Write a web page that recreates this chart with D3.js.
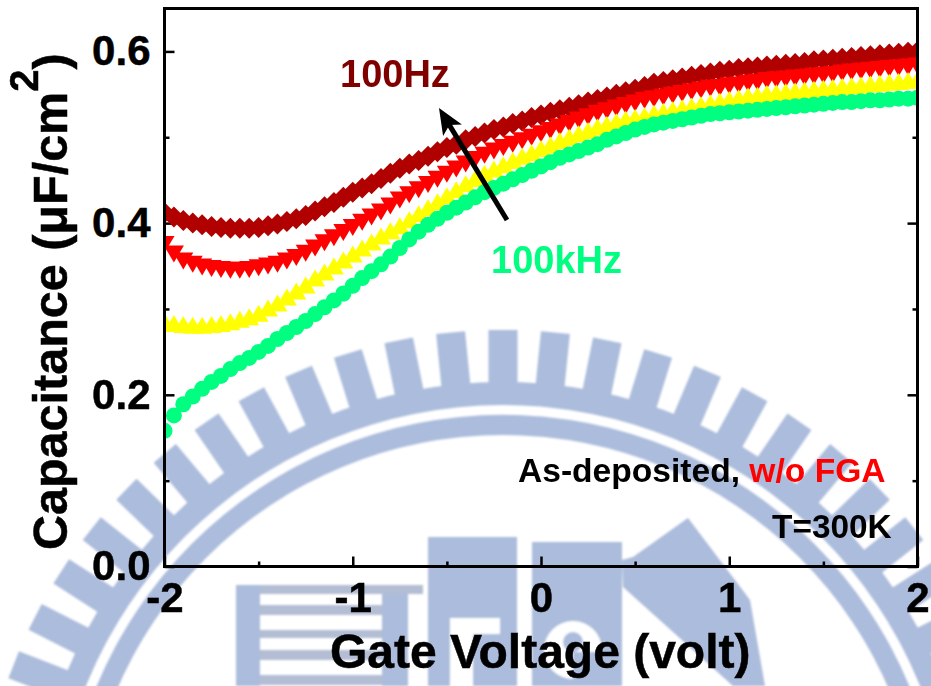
<!DOCTYPE html>
<html>
<head>
<meta charset="utf-8">
<script src="https://cdnjs.cloudflare.com/ajax/libs/d3/7.8.5/d3.min.js"></script>
<style>
	html,body{margin:0;padding:0;background:#fff;overflow:hidden;}
	svg{display:block;}
	text{font-family:"Liberation Sans",Arial,sans-serif;font-weight:bold;}
</style>
</head>
<body>
<div class="chart"></div>
<script>
//gate voltage sweep, same for all four curves
var voltage=[-2,-1.95,-1.9,-1.85,-1.8,-1.75,-1.7,-1.65,-1.6,-1.55,-1.5,-1.45,-1.4,-1.35,-1.3,-1.25,-1.2,-1.15,-1.1,-1.05,
	-1,-0.95,-0.9,-0.85,-0.8,-0.75,-0.7,-0.65,-0.6,-0.55,-0.5,-0.45,-0.4,-0.35,-0.3,-0.25,-0.2,-0.15,-0.1,-0.05,
	0,0.05,0.1,0.15,0.2,0.25,0.3,0.35,0.4,0.45,0.5,0.55,0.6,0.65,0.7,0.75,0.8,0.85,0.9,0.95,
	1,1.05,1.1,1.15,1.2,1.25,1.3,1.35,1.4,1.45,1.5,1.55,1.6,1.65,1.7,1.75,1.8,1.85,1.9,1.95,2];

var cap100Hz=[.412,.407,.403,.400,.398,.396,.395,.394,.394,.394,.395,.397,.399,.402,.405,.409,.414,.419,.424,.430,
	.436,.441,.446,.452,.458,.464,.469,.473,.478,.483,.488,.492,.497,.501,.505,.509,.512,.516,.519,.523,
	.526,.529,.532,.535,.538,.541,.544,.547,.550,.553,.556,.559,.563,.565,.567,.569,.571,.573,.575,.577,
	.578,.580,.581,.582,.583,.584,.585,.586,.587,.589,.590,.591,.592,.593,.594,.595,.596,.597,.598,.599,.600];

var capRed=[.375,.364,.356,.352,.349,.347,.346,.345,.345,.346,.348,.350,.352,.356,.360,.365,.371,.377,.383,.389,
	.395,.401,.407,.413,.420,.427,.433,.439,.445,.451,.457,.463,.469,.474,.479,.484,.488,.492,.496,.500,
	.504,.508,.512,.516,.520,.524,.528,.531,.534,.537,.540,.543,.545,.547,.549,.551,.553,.555,.557,.558,
	.560,.561,.563,.564,.566,.567,.568,.569,.570,.571,.572,.573,.575,.576,.577,.578,.579,.580,.581,.582,.583];

var capYellow=[.285,.283,.282,.281,.281,.282,.283,.285,.288,.291,.295,.301,.307,.314,.321,.328,.336,.343,.350,.357,
	.364,.371,.378,.385,.391,.397,.404,.411,.418,.425,.432,.439,.446,.452,.458,.463,.468,.473,.478,.482,
	.487,.491,.496,.500,.504,.508,.512,.515,.518,.521,.523,.525,.528,.530,.532,.534,.536,.538,.540,.542,
	.544,.546,.548,.549,.551,.552,.553,.554,.555,.556,.557,.558,.559,.560,.561,.562,.563,.564,.565,.566,.567];

var cap100kHz=[.158,.176,.189,.198,.207,.215,.222,.230,.237,.243,.250,.257,.265,.272,.279,.286,.294,.302,.310,.318,
	.327,.336,.344,.352,.361,.371,.381,.390,.398,.405,.412,.418,.424,.430,.436,.441,.446,.451,.456,.461,
	.466,.471,.476,.480,.484,.488,.492,.497,.501,.505,.509,.512,.515,.517,.519,.521,.523,.525,.527,.528,
	.529,.530,.531,.532,.533,.534,.535,.536,.537,.538,.539,.540,.541,.541,.542,.543,.543,.544,.545,.545,.546];

var xMajor=[-2,-1,0,1,2];
var xMinor=[-1.5,-0.5,0.5,1.5];
var yMajor=[0,0.2,0.4,0.6];
var yMinor=[0.1,0.3,0.5];

var width=931;
var height=686;
var left=164.5,right=917.5,top_=8.5,bottom=566.5;
var wmColor='#abbcdc';

var svg=d3.select('div.chart')
		.append('svg')
		.attr('width',width)
		.attr('height',height);

var xScale=d3.scaleLinear().domain([-2,2]).range([left,right]);
var yScale=d3.scaleLinear().domain([0,0.65]).range([bottom,top_]);

//school emblem watermark behind the plot, slightly soft like the scan
svg.append('filter').attr('id','soft')
	.attr('x',0).attr('y',0).attr('width',1).attr('height',1)
	.attr('filterUnits','userSpaceOnUse')
	.attr('width',width).attr('height',height)
	.append('feGaussianBlur').attr('stdDeviation',0.8);

var wm=svg.append('g').attr('class','watermark').attr('fill',wmColor).attr('filter','url(#soft)');
var emblem=wm.append('g').attr('transform','translate(503,855)');
var arc=d3.arc();
emblem.append('path').attr('d',arc({innerRadius:450,outerRadius:473,startAngle:-Math.PI/2,endAngle:Math.PI/2}));
emblem.append('path').attr('d',arc({innerRadius:420,outerRadius:440,startAngle:-Math.PI/2,endAngle:Math.PI/2}));
emblem.selectAll('rect')
	.data(d3.range(-13,14))
	.enter()
	.append('rect')
	.attr('x',-14.5)
	.attr('y',-525)
	.attr('width',29)
	.attr('height',54)
	.attr('transform',function(d){return 'rotate('+(d*0.1*180/Math.PI)+')';});

var blocks=[[236,585,24,101],[382,585,26,101],[428,537,89,149],[532,542,90,144]];
var stripes=[[260,585,163,9],[260,605,122,10],[260,630,122,8],[260,650,122,10],[260,675,122,10]];
wm.selectAll('rect.block')
	.data(blocks)
	.enter()
	.append('rect')
	.attr('class','block')
	.attr('x',function(d){return d[0];})
	.attr('y',function(d){return d[1];})
	.attr('width',function(d){return d[2];})
	.attr('height',function(d){return d[3];});
wm.selectAll('rect.stripe')
	.data(stripes)
	.enter()
	.append('rect')
	.attr('class','stripe')
	.attr('fill','#b3bdd3')
	.attr('x',function(d){return d[0];})
	.attr('y',function(d){return d[1];})
	.attr('width',function(d){return d[2];})
	.attr('height',function(d){return d[3];});
wm.append('rect').attr('x',450).attr('y',618).attr('width',50).attr('height',16).attr('fill','#fff');
wm.append('rect').attr('x',450).attr('y',634).attr('width',23).attr('height',52).attr('fill','#fff');
wm.append('circle').attr('cx',573).attr('cy',650).attr('r',29).attr('fill','#fff');
wm.append('circle').attr('cx',573).attr('cy',642).attr('r',10);
wm.append('rect').attr('x',573).attr('y',652).attr('width',30).attr('height',34);
wm.append('path').attr('d','M633,557L688,518L750,600L765,686L733,686L623,587L622,560Z');

//ticks point inward
function drawTicks(axis){
	var g=svg.append('g');
	g.call(axis);
	g.select('.domain').remove();
	g.selectAll('line').attr('stroke','#000').attr('stroke-width',2.5);
	return g;
}
var noLabel=function(){return '';};

drawTicks(d3.axisBottom(xScale).tickValues(xMajor).tickSize(-10).tickPadding(16).tickFormat(function(d){return String(d);}))
	.attr('transform','translate(0,'+bottom+')');
drawTicks(d3.axisBottom(xScale).tickValues(xMinor).tickSize(-5).tickFormat(noLabel))
	.attr('transform','translate(0,'+bottom+')');
drawTicks(d3.axisLeft(yScale).tickValues(yMajor).tickSize(-10).tickPadding(14).tickFormat(d3.format('.1f')))
	.attr('transform','translate('+left+',0)');
drawTicks(d3.axisLeft(yScale).tickValues(yMinor).tickSize(-5).tickFormat(noLabel))
	.attr('transform','translate('+left+',0)');
drawTicks(d3.axisRight(yScale).tickValues(yMajor).tickSize(-10).tickFormat(noLabel))
	.attr('transform','translate('+right+',0)');
drawTicks(d3.axisRight(yScale).tickValues(yMinor).tickSize(-5).tickFormat(noLabel))
	.attr('transform','translate('+right+',0)');

svg.selectAll('.tick text')
	.attr('font-size','42px')
	.attr('font-family','"Liberation Sans",Arial,sans-serif')
	.attr('font-weight','bold')
	.attr('fill','#000')
	.attr('stroke','#000')
	.attr('stroke-width',0.5);

//marker shapes
function polyType(pts){
	return {draw:function(ctx){
		pts.forEach(function(p,i){
			if(i==0) ctx.moveTo(p[0],p[1]);
			else ctx.lineTo(p[0],p[1]);
		});
		ctx.closePath();
	}};
}
var diamond=d3.symbol().type(polyType([[0,-10.5],[10.5,0],[0,10.5],[-10.5,0]]));
var triDown=d3.symbol().type(polyType([[-10,-8.5],[10,-8.5],[0,8.5]]));
var triUp=d3.symbol().type(polyType([[-10,8.5],[10,8.5],[0,-8.5]]));
var circle=d3.symbol().type(d3.symbolCircle).size(Math.PI*8*8);

svg.append('clipPath').attr('id','plotArea')
	.append('rect')
	.attr('x',left).attr('y',top_)
	.attr('width',right-left).attr('height',bottom-top_);

var marks=svg.append('g').attr('clip-path','url(#plotArea)');
function drawSeries(values,color,shape){
	marks.append('g')
		.selectAll('path')
		.data(values)
		.enter()
		.append('path')
		.attr('fill',color)
		.attr('d',shape)
		.attr('transform',function(d,i){
			return 'translate('+xScale(voltage[i])+','+yScale(d)+')';
		});
}
drawSeries(cap100Hz,'#b00000',diamond);
drawSeries(capRed,'#ff0000',triDown);
drawSeries(capYellow,'#ffff00',triUp);
drawSeries(cap100kHz,'#00ff80',circle);

//frame on top of the markers
svg.append('rect')
	.attr('x',left).attr('y',top_)
	.attr('width',right-left).attr('height',bottom-top_)
	.attr('fill','none')
	.attr('stroke','#000')
	.attr('stroke-width',3);

//arrow from 100kHz up to 100Hz
var arrowFrom=[507,220],arrowTo=[439,108];
var ang=Math.atan2(arrowTo[1]-arrowFrom[1],arrowTo[0]-arrowFrom[0])*180/Math.PI;
var arrowLen=Math.hypot(arrowTo[0]-arrowFrom[0],arrowTo[1]-arrowFrom[1]);
var arrow=svg.append('g').attr('transform','translate('+arrowFrom[0]+','+arrowFrom[1]+') rotate('+ang+')');
arrow.append('line').attr('x1',0).attr('y1',0).attr('x2',arrowLen-18).attr('y2',0).attr('stroke','#000').attr('stroke-width',5);
arrow.append('path').attr('d','M'+arrowLen+',0L'+(arrowLen-26)+',-11L'+(arrowLen-20)+',0L'+(arrowLen-26)+',11Z').attr('fill','#000');

//labels
svg.append('text').attr('x',340).attr('y',87).attr('font-size','38px').attr('fill','#800000').text('100Hz');
svg.append('text').attr('x',491).attr('y',273).attr('font-size','38px').attr('fill','#00ff80').text('100kHz');

var note=svg.append('text').attr('x',518).attr('y',482).attr('font-size','33.6px');
note.append('tspan').attr('fill','#000').text('As-deposited, ');
note.append('tspan').attr('fill','#ff0000').text('w/o FGA');
svg.append('text').attr('x',772).attr('y',538).attr('font-size','33.4px').attr('fill','#000').text('T=300K');

svg.append('text')
	.attr('x',330).attr('y',668)
	.attr('font-size','48px')
	.attr('fill','#000')
	.attr('stroke','#000')
	.attr('stroke-width',0.5)
	.text('Gate Voltage (volt)');

var yTitle=svg.append('text')
	.attr('transform','translate(67,550) rotate(-90)')
	.attr('font-size','48.5px')
	.attr('fill','#000')
	.attr('stroke','#000')
	.attr('stroke-width',0.5);
yTitle.append('tspan').text('Capacitance (\u03bcF/cm');
yTitle.append('tspan').attr('font-size','40px').attr('dy','-29').text('2');
yTitle.append('tspan').attr('dy','29').text(')');
</script>
</body>
</html>
